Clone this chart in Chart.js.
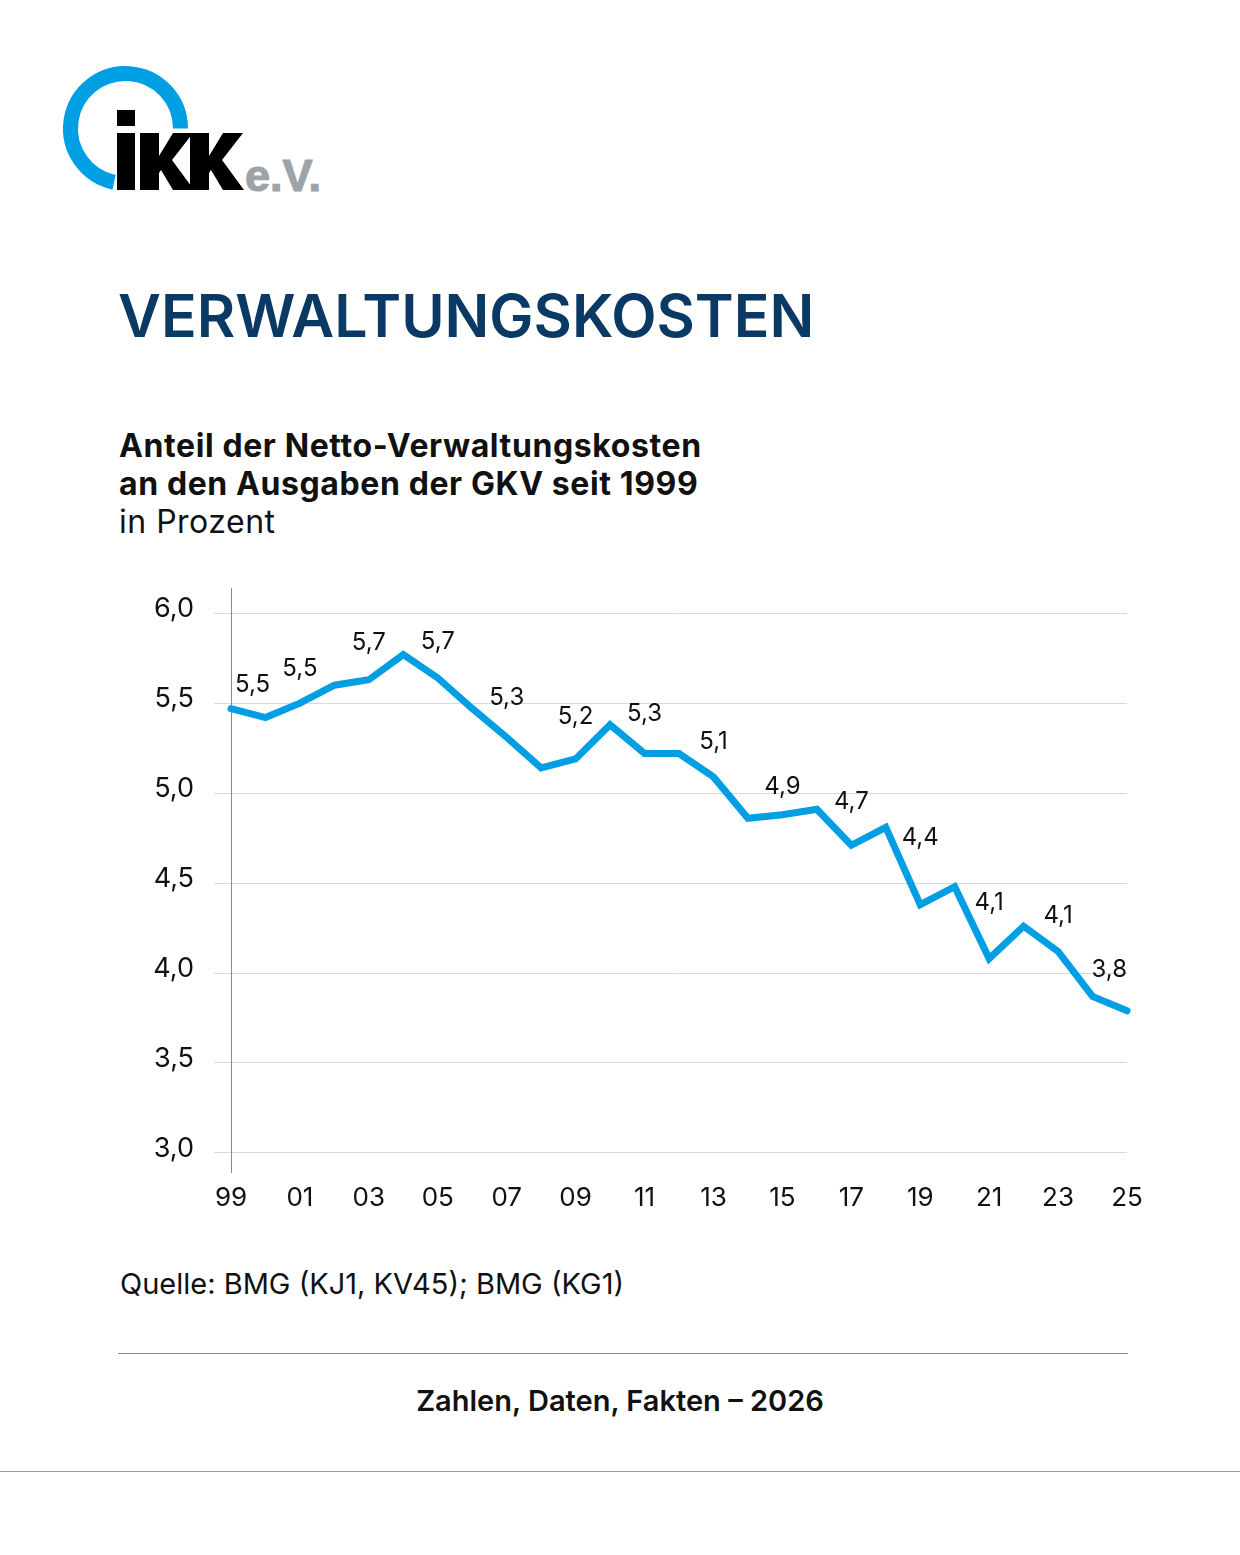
<!DOCTYPE html>
<html lang="de">
<head>
<meta charset="utf-8">
<title>Verwaltungskosten</title>
<script src="https://cdn.jsdelivr.net/npm/chart.js@4.4.1/dist/chart.umd.min.js"></script>
<style>
  html, body { margin: 0; padding: 0; background: #ffffff; }
  body { width: 1240px; height: 1555px; position: relative; overflow: hidden; font-family: Inter, "Noto Sans", sans-serif; color: #111; }
  .abs { position: absolute; white-space: nowrap; }
  #title { left: 118px; top: 286px; font-size: 59px; line-height: 60px; font-weight: 600; color: #0a3a64; }
  #sub { left: 119px; top: 427px; font-size: 32px; line-height: 38px; letter-spacing: 0.5px; }
  #sub b { font-weight: 700; letter-spacing: 0.6px; }
  #source { left: 120px; top: 1266px; font-size: 29px; line-height: 36px; }
  #footer { left: 0; width: 1240px; text-align: center; top: 1383px; font-size: 29px; line-height: 36px; font-weight: 600; }
  #rule1 { left: 118px; top: 1353px; width: 1010px; height: 1px; background: #8a8a8a; }
  #rule2 { left: 0; top: 1471px; width: 1240px; height: 1px; background: #9a9a9a; }
  #chartBox { left: 0; top: 552px; width: 1240px; height: 688px; }
  #chartBox canvas { display: block; }
</style>
</head>
<body>
<svg class="abs" style="left:0;top:0" width="340" height="210" viewBox="0 0 340 210">
  <path d="M 114.1 182.3 A 55 55 0 1 1 180.5 128.5" fill="none" stroke="#009fe3" stroke-width="15" stroke-linecap="butt"/>
  <rect x="117" y="110" width="18" height="16" fill="#000"/>
  <rect x="117" y="133" width="18" height="57" fill="#000"/>
  <polygon transform="translate(140,133)" points="0,0 19,0 19,23 33,0 53,0 32,27 54,57 33,57 21,37 19,40 19,57 0,57" fill="#000"/>
  <polygon transform="translate(190,133)" points="0,0 19,0 19,23 33,0 53,0 32,27 54,57 33,57 21,37 19,40 19,57 0,57" fill="#000"/>
  <text x="245" y="191" font-family="Liberation Sans, Arial, sans-serif" font-weight="700" font-size="45" fill="#9ea3a8" stroke="#9ea3a8" stroke-width="1.2">e.V.</text>
</svg>

<div id="title" class="abs">VERWALTUNGSKOSTEN</div>
<div id="sub" class="abs"><b>Anteil der Netto-Verwaltungskosten</b><br><b>an den Ausgaben der GKV seit 1999</b><br>in Prozent</div>

<div id="chartBox" class="abs"><canvas id="c" width="1240" height="688"></canvas></div>

<div id="source" class="abs">Quelle: BMG (KJ1, KV45); BMG (KG1)</div>
<div id="rule1" class="abs"></div>
<div id="footer" class="abs">Zahlen, Daten, Fakten – 2026</div>
<div id="rule2" class="abs"></div>

<script>
// ---- data ----
const years = [1999, 2000, 2001, 2002, 2003, 2004, 2005, 2006, 2007, 2008, 2009, 2010, 2011, 2012,
               2013, 2014, 2015, 2016, 2017, 2018, 2019, 2020, 2021, 2022, 2023, 2024, 2025];
const shareValues = [5.47, 5.42, 5.50, 5.60, 5.63, 5.77, 5.64, 5.47, 5.31, 5.14, 5.19, 5.38, 5.22, 5.22,
                     5.09, 4.86, 4.88, 4.91, 4.71, 4.81, 4.38, 4.48, 4.08, 4.26, 4.12, 3.87, 3.79];
const labelYears = [1999, 2001, 2003, 2005, 2007, 2009, 2011, 2013, 2015, 2017, 2019, 2021, 2023, 2025];
const labelTexts = ['5,5', '5,5', '5,7', '5,7', '5,3', '5,2', '5,3', '5,1', '4,9', '4,7', '4,4', '4,1', '4,1', '3,8'];
const yTickValues = [3.0, 3.5, 4.0, 4.5, 5.0, 5.5, 6.0];
const xTickLabels = years.map(y => String(y).slice(2));

const FONT = 'Inter, "Noto Sans", sans-serif';

function lineYAt(pts, x) {
  if (x <= pts[0].x) return pts[0].y;
  for (let j = 0; j < pts.length - 1; j++) {
    const a = pts[j], b = pts[j + 1];
    if (x >= a.x && x <= b.x) {
      const t = (x - a.x) / (b.x - a.x);
      return a.y + t * (b.y - a.y);
    }
  }
  return pts[pts.length - 1].y;
}

const valueLabels = {
  id: 'valueLabels',
  afterDatasetsDraw(chart) {
    const ctx = chart.ctx;
    const pts = chart.getDatasetMeta(0).data;
    const area = chart.chartArea;
    ctx.save();
    ctx.font = '24px ' + FONT;
    ctx.fillStyle = '#111';
    ctx.textAlign = 'center';
    ctx.textBaseline = 'middle';
    labelYears.forEach((yr, k) => {
      const i = years.indexOf(yr);
      const p = pts[i];
      const text = labelTexts[k];
      const w = ctx.measureText(text).width;
      let cx = Math.max(p.x, area.left + w / 2 + 4);
      cx = Math.min(cx, area.right - w / 2);
      let minY = Infinity;
      for (let x = cx - w / 2; x <= cx + w / 2; x += 1) minY = Math.min(minY, lineYAt(pts, x));
      ctx.fillText(text, cx, minY - 25);
    });
    ctx.restore();
  }
};

new Chart(document.getElementById('c'), {
  type: 'line',
  data: {
    labels: xTickLabels,
    datasets: [{
      data: shareValues,
      borderColor: '#009fe3',
      borderWidth: 7,
      borderCapStyle: 'round',
      borderJoinStyle: 'miter',
      pointRadius: 0,
      tension: 0,
      fill: false,
      clip: false
    }]
  },
  options: {
    responsive: false,
    devicePixelRatio: 1,
    animation: false,
    layout: { padding: { top: 36, right: 113, bottom: 0, left: 0 } },
    plugins: { legend: { display: false }, tooltip: { enabled: false } },
    scales: {
      x: {
        type: 'category',
        offset: false,
        grid: { display: false, drawTicks: false },
        border: { display: false },
        ticks: {
          autoSkip: false,
          maxRotation: 0,
          padding: 11,
          color: '#111',
          font: { family: FONT, size: 26 },
          callback: (v, i) => (i % 2 === 0 ? xTickLabels[i] : '')
        },
        afterFit: s => { s.height = 68; }
      },
      y: {
        min: 2.894,
        max: 6.139,
        grid: { color: '#d9d9d9', lineWidth: 1, drawTicks: true, tickLength: 17, tickColor: '#d9d9d9' },
        border: { display: true, color: '#8a8a8a', width: 1 },
        ticks: {
          padding: 20,
          labelOffset: -4,
          color: '#111',
          font: { family: FONT, size: 27 },
          callback: v => v.toFixed(1).replace('.', ',')
        },
        afterBuildTicks: s => { s.ticks = yTickValues.map(v => ({ value: v })); },
        afterFit: s => { s.width = 231; }
      }
    }
  },
  plugins: [valueLabels]
});
</script>
</body>
</html>
